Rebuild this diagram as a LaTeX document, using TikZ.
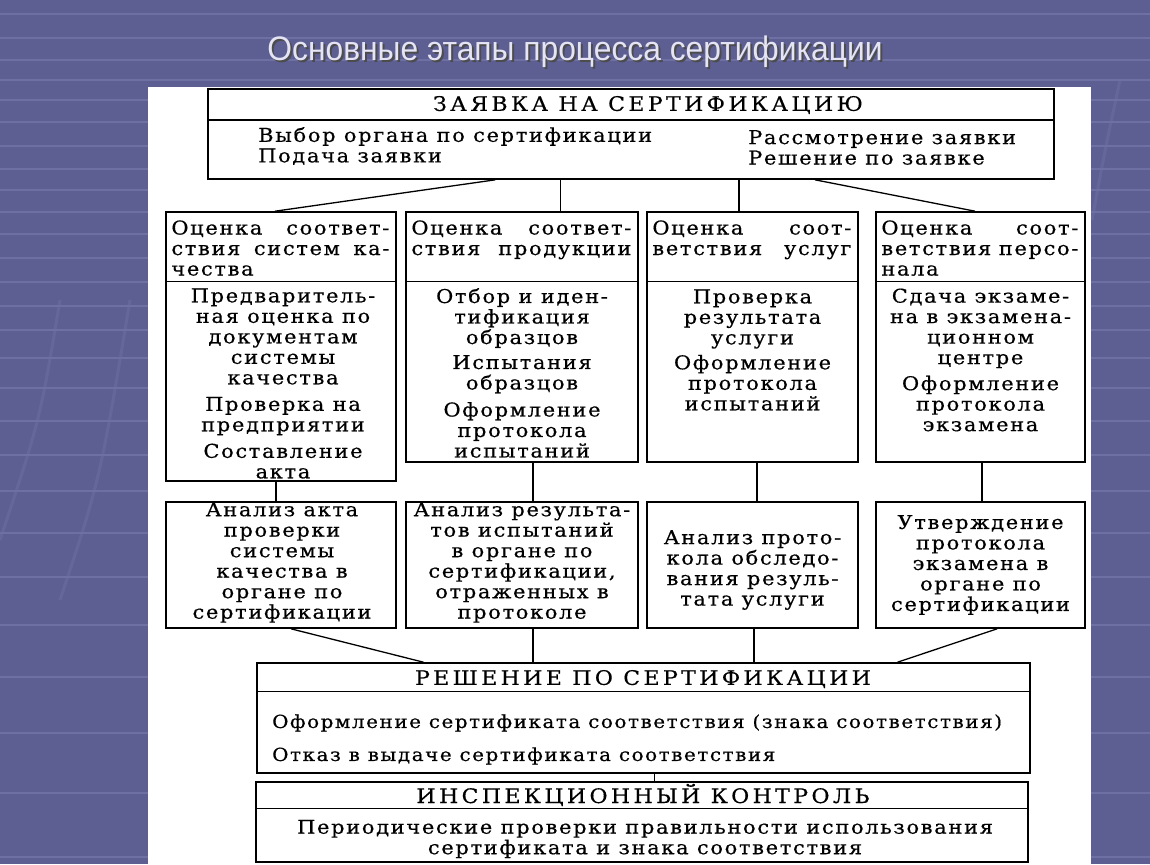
\documentclass[tikz,border=0pt]{standalone}
\usepackage{fontspec}
\newfontfamily\diafont{DejaVu Serif}[FakeStretch=1.1, LetterSpace=9, FakeBold=0.6]
\newfontfamily\capsfont{DejaVu Serif}[FakeStretch=1.1, LetterSpace=17, FakeBold=0.4]
\newfontfamily\titlefont{Liberation Sans}[FakeStretch=0.935]
\usetikzlibrary{calc}

\definecolor{slidebg}{RGB}{93,95,147}
\definecolor{slidegrid}{RGB}{110,112,163}
\definecolor{titlecol}{RGB}{228,228,244}

\tikzset{
	blk/.style={draw=black, line width=1.6pt, fill=white, inner sep=0pt},
	sepline/.style={line width=1.4pt},
	wire/.style={line width=1.3pt},
	hd/.style={font=\fontsize{20}{20.5}\selectfont\capsfont, inner sep=0pt},
	bd/.style={font=\fontsize{19}{20.5}\selectfont\diafont, align=center, inner sep=0pt},
}

\begin{document}
\begin{tikzpicture}[x=1pt,y=-1pt]
\useasboundingbox (0,0) rectangle (1150,864);

%draw slide background
			\fill[slidebg] (0,0) rectangle (1150,864);
			\foreach \y in {14,38,60,80,100,122,146,169,190,212,234,258,282,306,330,358,388,421,455,491,533,577,625,677,733,793,857}
				\draw[slidegrid, line width=1.6pt] (0,\y) -- (1150,\y);
			\draw[slidegrid, line width=3pt, opacity=0.5] (60,300) .. controls (40,420) .. (0,540);
			\draw[slidegrid, line width=3pt, opacity=0.5] (130,300) .. controls (100,480) .. (60,600);
			\draw[slidegrid, line width=3pt, opacity=0.5] (1120,80) .. controls (1105,150) .. (1092,220);

%draw title
			\node[font=\titlefont\fontsize{34}{34}\selectfont, text=black!70] (titleShadow) at (577,54) {Основные этапы процесса сертификации};
			\node[font=\titlefont\fontsize{34}{34}\selectfont, text=titlecol] (title) at (575,52) {Основные этапы процесса сертификации};

%draw white sheet
			\fill[white] (148,87) rectangle (1091,864);

%define boxes
			\node[blk, minimum width=846, minimum height=90] (zayavka) at (631,134) {};
			\node[blk, minimum width=230, minimum height=269] (b1) at (281,346.5) {};
			\node[blk, minimum width=232, minimum height=250] (b2) at (522,337) {};
			\node[blk, minimum width=211, minimum height=250] (b3) at (752.5,337) {};
			\node[blk, minimum width=209, minimum height=250] (b4) at (980.5,337) {};
			\node[blk, minimum width=230, minimum height=126] (c1) at (281,565) {};
			\node[blk, minimum width=232, minimum height=126] (c2) at (522,565) {};
			\node[blk, minimum width=211, minimum height=126] (c3) at (752.5,565) {};
			\node[blk, minimum width=209, minimum height=126] (c4) at (980.5,565) {};
			\node[blk, minimum width=773, minimum height=110] (reshenie) at (643.5,718) {};
			\node[blk, minimum width=772, minimum height=80] (kontrol) at (642,822) {};

%draw header lines
			\draw[sepline] ($(zayavka.north west)+(0,32)$) -- ($(zayavka.north east)+(0,32)$);
			\foreach \b in {b1,b2,b3,b4}
				\draw[sepline] ($(\b.north west)+(0,70)$) -- ($(\b.north east)+(0,70)$);
			\draw[sepline] ($(reshenie.north west)+(0,29)$) -- ($(reshenie.north east)+(0,29)$);
			\draw[sepline] ($(kontrol.north west)+(0,27)$) -- ($(kontrol.north east)+(0,27)$);

%draw connectors
			\draw[wire] ($(zayavka.south west)!0.340!(zayavka.south east)$) -- ($(b1.north west)!0.474!(b1.north east)$);
			\coordinate (tB) at ($(b2.north west)!0.664!(b2.north east)$);
			\draw[wire] (tB) -- (tB |- zayavka.south);
			\coordinate (tC) at ($(b3.north west)!0.436!(b3.north east)$);
			\draw[wire] (tC) -- (tC |- zayavka.south);
			\draw[wire] ($(zayavka.south west)!0.717!(zayavka.south east)$) -- ($(b4.north west)!0.474!(b4.north east)$);

			\coordinate (mA) at ($(b1.south west)!0.478!(b1.south east)$);
			\draw[wire] (mA) -- (mA |- c1.north);
			\coordinate (mB) at ($(b2.south west)!0.547!(b2.south east)$);
			\draw[wire] (mB) -- (mB |- c2.north);
			\coordinate (mC) at ($(b3.south west)!0.521!(b3.south east)$);
			\draw[wire] (mC) -- (mC |- c3.north);
			\coordinate (mD) at ($(b4.south west)!0.507!(b4.south east)$);
			\draw[wire] (mD) -- (mD |- c4.north);

			\draw[wire] ($(c1.south west)!0.543!(c1.south east)$) -- ($(reshenie.north west)!0.216!(reshenie.north east)$);
			\coordinate (lB) at ($(c2.south west)!0.547!(c2.south east)$);
			\draw[wire] (lB) -- (lB |- reshenie.north);
			\coordinate (lC) at ($(c3.south west)!0.507!(c3.south east)$);
			\draw[wire] (lC) -- (lC |- reshenie.north);
			\draw[wire] ($(c4.south west)!0.579!(c4.south east)$) -- ($(reshenie.north west)!0.828!(reshenie.north east)$);

			\coordinate (rK) at ($(reshenie.south west)!0.514!(reshenie.south east)$);
			\draw[wire] (rK) -- (rK |- kontrol.north);

%draw texts of top box
			\node[hd] (zHead) at (648,105) {ЗАЯВКА НА СЕРТИФИКАЦИЮ};
			\node[bd, align=left, anchor=west] (zLeft) at (258,146) {Выбор органа по сертификации\\Подача заявки};
			\node[bd, align=left, anchor=west] (zRight) at (748,147.5) {Рассмотрение заявки\\Решение по заявке};

%draw headers of the four branches
			\node[bd, align=left, anchor=north west] (h1) at ($(b1.north west)+(6,9)$) {\makebox[218pt][s]{Оценка соответ-}\\\makebox[218pt][s]{ствия систем ка-}\\чества};
			\node[bd, align=left, anchor=north west] (h2) at ($(b2.north west)+(6,9)$) {\makebox[220pt][s]{Оценка соответ-}\\\makebox[220pt][s]{ствия продукции}};
			\node[bd, align=left, anchor=north west] (h3) at ($(b3.north west)+(6,9)$) {\makebox[199pt][s]{Оценка соот-}\\\makebox[199pt][s]{ветствия услуг}};
			\node[bd, align=left, anchor=north west] (h4) at ($(b4.north west)+(6,9)$) {\makebox[197pt][s]{Оценка соот-}\\\makebox[197pt][s]{ветствия персо-}\\нала};

%draw steps of the four branches
			\node[bd] (s1) at (283,383.5) {Предваритель-\\ная оценка по\\документам\\системы\\качества\\[6pt]Проверка на\\предприятии\\[6pt]Составление\\акта};
			\node[bd] (s2) at (522,373) {Отбор и иден-\\тификация\\образцов\\[4.5pt]Испытания\\образцов\\[6.5pt]Оформление\\протокола\\испытаний};
			\node[bd] (s3) at (752.5,350) {Проверка\\результата\\услуги\\[4.5pt]Оформление\\протокола\\испытаний};
			\node[bd] (s4) at (980.5,360) {Сдача экзаме-\\на в экзамена-\\ционном\\центре\\[5.5pt]Оформление\\протокола\\экзамена};

			\node[bd] (a1) at (282,562.5) {Анализ акта\\проверки\\системы\\качества в\\органе по\\сертификации};
			\node[bd] (a2) at (522,562.5) {Анализ результа-\\тов испытаний\\в органе по\\сертификации,\\отраженных в\\протоколе};
			\node[bd] (a3) at (752.5,570) {Анализ прото-\\кола обследо-\\вания резуль-\\тата услуги};
			\node[bd] (a4) at (980.5,565) {Утверждение\\протокола\\экзамена в\\органе по\\сертификации};

%draw texts of bottom boxes
			\node[hd] (rHead) at (643,679) {РЕШЕНИЕ ПО СЕРТИФИКАЦИИ};
			\node[bd, font=\fontsize{18}{20.5}\selectfont\diafont, align=left, anchor=west] (rBody) at (272,739.5) {Оформление сертификата соответствия (знака соответствия)\\[12.5pt]Отказ в выдаче сертификата соответствия};
			\node[hd] (kHead) at (643,795) {ИНСПЕКЦИОННЫЙ КОНТРОЛЬ};
			\node[bd] (kBody) at (645,839) {Периодические проверки правильности использования\\сертификата и знака соответствия};

\end{tikzpicture}
\end{document}
